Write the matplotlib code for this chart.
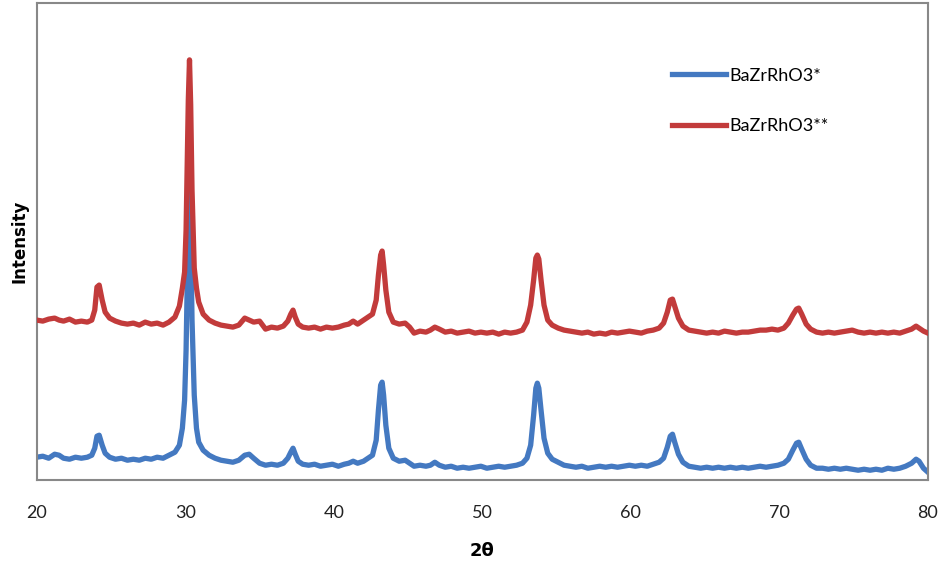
"""
XRD patterns of the two BaZrRhO3 samples (values read off the reference plot,
intensity in arbitrary units).
"""
import matplotlib
matplotlib.use("Agg")
import matplotlib.pyplot as plt

# ---------- data ----------
two_theta = [
 20.0, 20.4, 20.8, 21.2, 21.5, 21.8, 22.2, 22.6, 23.0, 23.4, 23.7, 23.9, 24.05, 24.2, 24.4, 24.6, 24.9,
 25.3, 25.7, 26.1, 26.5, 26.9, 27.3, 27.7, 28.1, 28.5, 28.9, 29.3, 29.6, 29.8, 29.95, 30.05, 30.12,
 30.2, 30.28, 30.36, 30.45, 30.6, 30.75, 30.9, 31.2, 31.6, 32.0, 32.4, 32.8, 33.2, 33.6, 34.0, 34.3, 34.6,
 35.0, 35.4, 35.8, 36.2, 36.6, 36.9, 37.1, 37.25, 37.4, 37.6, 37.9, 38.3, 38.7, 39.1, 39.5, 39.9,
 40.3, 40.7, 41.0, 41.3, 41.6, 42.0, 42.3, 42.6, 42.85, 43.0, 43.15, 43.25, 43.35, 43.5, 43.7, 44.0,
 44.4, 44.8, 45.1, 45.4, 45.8, 46.2, 46.5, 46.8, 47.1, 47.5, 47.9, 48.3, 48.7, 49.1, 49.5, 49.9,
 50.3, 50.7, 51.1, 51.5, 51.9, 52.3, 52.7, 53.0, 53.25, 53.45, 53.6, 53.7, 53.8, 53.95, 54.15, 54.4,
 54.7, 55.1, 55.5, 55.9, 56.3, 56.7, 57.1, 57.5, 57.9, 58.3, 58.7, 59.1, 59.5, 59.9, 60.3, 60.7,
 61.1, 61.5, 61.9, 62.2, 62.45, 62.65, 62.8, 62.95, 63.2, 63.5, 63.9, 64.3, 64.7, 65.1, 65.5, 65.9,
 66.3, 66.7, 67.1, 67.5, 67.9, 68.3, 68.7, 69.1, 69.5, 69.9, 70.3, 70.6, 70.9, 71.15, 71.3, 71.5,
 71.8, 72.1, 72.5, 72.9, 73.3, 73.7, 74.1, 74.5, 74.9, 75.3, 75.7, 76.1, 76.5, 76.9, 77.3, 77.7,
 78.1, 78.5, 78.9, 79.2, 79.4, 79.7, 80.0]

# BaZrRhO3*
blue = [
 23, 24, 22, 26, 25, 22, 21, 23, 22, 23, 25, 32, 44, 45, 35, 27, 23,
 21, 22, 20, 21, 20, 22, 21, 23, 22, 25, 28, 35, 52, 80, 130, 190,
 260, 305, 250, 160, 85, 52, 38, 30, 25, 22, 20, 19, 18, 20, 25, 26, 22,
 17, 15, 16, 15, 17, 22, 28, 32, 26, 19, 16, 15, 16, 14, 15, 16,
 14, 16, 17, 19, 17, 19, 22, 25, 40, 70, 95, 98, 85, 55, 32, 22,
 19, 20, 17, 14, 15, 14, 15, 18, 15, 13, 14, 12, 13, 12, 13, 14,
 12, 13, 14, 13, 14, 15, 17, 22, 35, 65, 92, 97, 92, 70, 42, 27,
 21, 18, 15, 14, 13, 14, 12, 13, 14, 13, 14, 13, 14, 15, 14, 15,
 14, 16, 18, 22, 33, 44, 46, 38, 26, 18, 14, 13, 12, 13, 12, 13,
 12, 13, 12, 13, 12, 13, 14, 13, 14, 15, 17, 21, 30, 37, 38, 31,
 21, 15, 12, 12, 11, 12, 11, 12, 11, 10, 11, 10, 11, 10, 12, 11,
 12, 14, 17, 21, 19, 12, 8]

# BaZrRhO3**
red = [
 160, 159, 161, 162, 160, 159, 161, 158, 159, 158, 160, 170, 193, 195, 180, 168, 162,
 159, 157, 156, 157, 155, 158, 156, 157, 155, 158, 163, 174, 192, 208, 250, 310,
 380, 420, 375, 290, 212, 192, 178, 166, 160, 157, 155, 154, 153, 155, 162, 160, 158,
 159, 151, 153, 152, 154, 159, 166, 170, 163, 156, 153, 152, 153, 151, 153, 152,
 153, 155, 156, 159, 156, 160, 163, 166, 180, 205, 225, 229, 215, 190, 168, 158,
 156, 157, 153, 147, 149, 148, 150, 153, 151, 148, 149, 147, 148, 149, 147, 148,
 147, 148, 146, 148, 147, 148, 150, 158, 175, 200, 222, 225, 221, 200, 175, 160,
 155, 152, 150, 149, 148, 147, 148, 146, 147, 146, 148, 147, 148, 149, 148, 147,
 149, 150, 152, 157, 168, 180, 181, 174, 162, 154, 150, 149, 148, 147, 148, 147,
 149, 148, 147, 148, 148, 149, 150, 150, 151, 150, 152, 157, 165, 171, 172, 166,
 156, 151, 148, 147, 148, 147, 148, 149, 150, 148, 147, 148, 147, 148, 147, 148,
 147, 149, 151, 154, 152, 149, 147]

labels = ["BaZrRhO3*", "BaZrRhO3**"]
colors = ["#4479C1", "#C23B3B"]

# ---------- plot ----------
plt.rcParams["font.family"] = ["Lato", "DejaVu Sans"]
fig = plt.figure(figsize=(9.44, 5.69), dpi=100)
ax = fig.add_axes([0.039, 0.156, 0.944, 0.839])

ax.plot(two_theta, blue, color=colors[0], lw=3.8, label=labels[0], zorder=2)
ax.plot(two_theta, red, color=colors[1], lw=3.8, label=labels[1], zorder=3)

ax.set_xlim(20, 80); ax.set_ylim(0, 477)
ax.set_xticks(range(20, 81, 10))
ax.set_yticks([])
ax.tick_params(axis="x", length=0, pad=18, labelsize=13, labelcolor="#222222")
for s in ax.spines.values():
    s.set_color("#888888"); s.set_linewidth(1.5)

ax.set_xlabel("2θ", fontsize=13, fontweight="bold", labelpad=15, family=["DejaVu Sans"])
ax.set_ylabel("Intensity", fontsize=12, fontweight="bold", labelpad=6, family=["DejaVu Sans"])

ax.legend(loc="center left", bbox_to_anchor=(0.713, 0.795), frameon=False, fontsize=13,
          handlelength=3.0, handletextpad=0.15, labelspacing=1.9, borderpad=0, borderaxespad=0)

fig.savefig("out.png", dpi=100)
